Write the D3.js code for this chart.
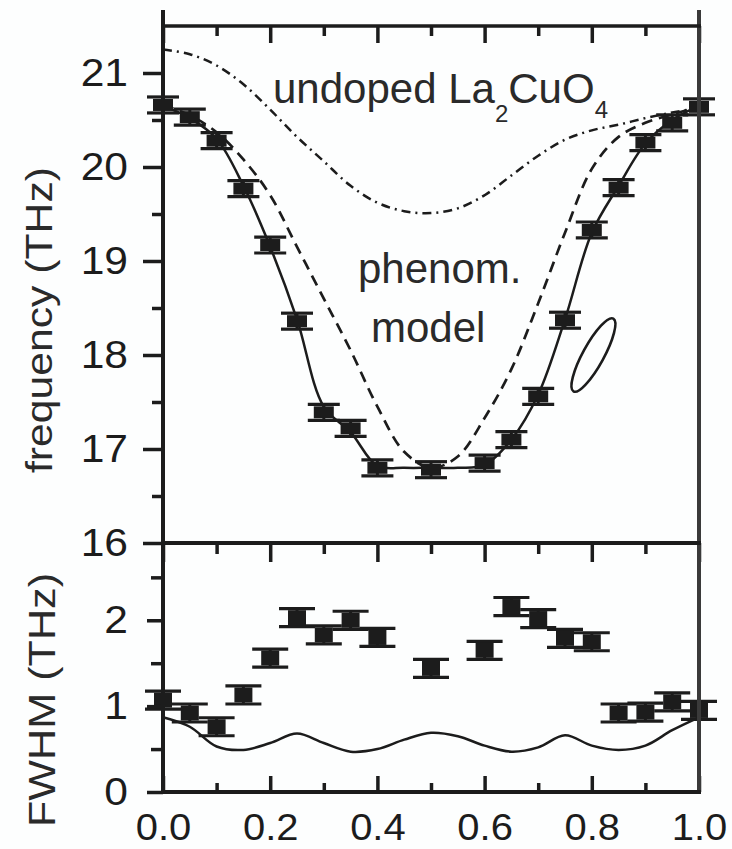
<!DOCTYPE html>
<html><head><meta charset="utf-8">
<script src="https://cdn.jsdelivr.net/npm/d3@7/dist/d3.min.js"></script>
<style>html,body{margin:0;padding:0;background:#fdfefe;} svg{display:block;}</style>
</head><body><svg id="c" width="732" height="849"></svg>
<script>
// ---- data ----
const qPoints   = [0,0.05,0.1,0.15,0.2,0.25,0.3,0.35,0.4,0.5,0.6,0.65,0.7,0.75,0.8,0.85,0.9,0.95,1.0];
const freqPoints = [20.66,20.53,20.28,19.77,19.17,18.36,17.39,17.22,16.80,16.78,16.85,17.10,17.56,18.37,19.33,19.78,20.26,20.47,20.64];
const freqErr = 0.085;
const fwhmPoints = [1.07,0.92,0.76,1.13,1.56,2.03,1.83,2.00,1.80,1.44,1.65,2.16,2.02,1.79,1.75,0.92,0.93,1.05,0.95];
const fwhmErr = 0.105;

const qGrid = [0,0.05,0.1,0.15,0.2,0.25,0.3,0.35,0.4,0.45,0.5,0.55,0.6,0.65,0.7,0.75,0.8,0.85,0.9,0.95,1.0];
const fitFreq     = [20.65,20.52,20.30,19.80,19.15,18.38,17.45,17.18,16.82,16.80,16.80,16.80,16.83,17.10,17.58,18.38,19.30,19.80,20.25,20.50,20.65];
const phenomFreq  = [20.66,20.55,20.37,20.08,19.70,19.15,18.60,18.05,17.45,16.97,16.80,16.92,17.33,17.85,18.55,19.30,19.98,20.32,20.47,20.56,20.64];
const undopedFreq = [21.25,21.20,21.08,20.88,20.61,20.32,20.06,19.80,19.62,19.53,19.51,19.56,19.70,19.91,20.12,20.29,20.39,20.45,20.52,20.58,20.63];
const fitFwhm     = [0.87,0.76,0.53,0.49,0.57,0.68,0.57,0.47,0.50,0.61,0.69,0.65,0.54,0.47,0.52,0.66,0.54,0.49,0.54,0.72,0.87];

const xMajor = [0,0.2,0.4,0.6,0.8,1.0];
const xMinor = [0.1,0.3,0.5,0.7,0.9];
const freqMajor = [16,17,18,19,20,21];
const freqMinor = [16.5,17.5,18.5,19.5,20.5];
const fwhmMajor = [0,1,2];
const fwhmMinor = [0.5,1.5,2.5];
const ellipseCenter = [0.803, 18.0];

// ---- layout ----
const svg = d3.select("#c");
const ink = "#1c1c1c";
const x = d3.scaleLinear().domain([0,1]).range([163,699]);
const yT = d3.scaleLinear().domain([16,21.5]).range([543,26]);
const yB = d3.scaleLinear().domain([0,2.9]).range([792,543]);
const font = "'Liberation Sans', Arial, Helvetica, sans-serif";

function stretch(sel, f){
  sel.each(function(){
    const L = this.getComputedTextLength();
    d3.select(this).attr("textLength", L*f).attr("lengthAdjust","spacingAndGlyphs");
  });
}
function styleAxis(g){
  g.select(".domain").remove();
  g.selectAll(".tick line").attr("stroke", ink).attr("stroke-width", 3.5);
  g.selectAll("text").attr("fill", ink).style("font-family", font).style("font-size","38px");
}

// curves
const lineT = d3.line().x(d=>x(d[0])).y(d=>yT(d[1])).curve(d3.curveCatmullRom.alpha(0.5));
const lineB = d3.line().x(d=>x(d[0])).y(d=>yB(d[1])).curve(d3.curveCatmullRom.alpha(0.5));
const zip = (a,b)=>a.map((v,i)=>[v,b[i]]);

svg.append("path").attr("d", lineT(zip(qGrid, undopedFreq))).attr("fill","none")
  .attr("stroke", ink).attr("stroke-width",2.5).attr("stroke-dasharray","9,5,2,5");
svg.append("path").attr("d", lineT(zip(qGrid, phenomFreq))).attr("fill","none")
  .attr("stroke", ink).attr("stroke-width",2.7).attr("stroke-dasharray","11,7");
svg.append("path").attr("d", lineT(zip(qGrid, fitFreq))).attr("fill","none")
  .attr("stroke", ink).attr("stroke-width",2.5);
svg.append("path").attr("d", lineB(zip(qGrid, fitFwhm))).attr("fill","none")
  .attr("stroke", ink).attr("stroke-width",2.5);

// markers with error bars
function markers(vals, yS, err, bw, bh, cw){
  const g = svg.append("g");
  const m = g.selectAll("g").data(zip(qPoints, vals)).join("g");
  m.append("line").attr("x1",d=>x(d[0])).attr("x2",d=>x(d[0]))
    .attr("y1",d=>yS(d[1]-err)).attr("y2",d=>yS(d[1]+err)).attr("stroke",ink).attr("stroke-width",3);
  [-err, err].forEach(e=>{
    m.append("line").attr("x1",d=>x(d[0])-cw/2).attr("x2",d=>x(d[0])+cw/2)
      .attr("y1",d=>yS(d[1]+e)).attr("y2",d=>yS(d[1]+e)).attr("stroke",ink).attr("stroke-width",3.2);
  });
  m.append("rect").attr("x",d=>x(d[0])-bw/2).attr("y",d=>yS(d[1])-bh/2)
    .attr("width",bw).attr("height",bh).attr("fill",ink);
}
markers(freqPoints, yT, freqErr, 20, 12, 32);
markers(fwhmPoints, yB, fwhmErr, 18, 15, 36);

// ellipse annotation
svg.append("ellipse").attr("cx",0).attr("cy",0).attr("rx",41.5).attr("ry",10.5)
  .attr("transform",`translate(${x(ellipseCenter[0])},${yT(ellipseCenter[1])}) rotate(-61.3)`)
  .attr("fill","none").attr("stroke",ink).attr("stroke-width",2.6);

// axes
const gyT = svg.append("g").attr("transform","translate(163,0)")
  .call(d3.axisLeft(yT).tickValues(freqMajor).tickSize(20).tickPadding(15).tickFormat(d3.format("d")));
styleAxis(gyT);
const gyTm = svg.append("g").attr("transform","translate(163,0)")
  .call(d3.axisLeft(yT).tickValues(freqMinor).tickSize(11).tickFormat(""));
styleAxis(gyTm);
const gyB = svg.append("g").attr("transform","translate(163,0)")
  .call(d3.axisLeft(yB).tickValues(fwhmMajor).tickSize(16).tickPadding(19).tickFormat(d3.format("d")));
styleAxis(gyB);
const gyBm = svg.append("g").attr("transform","translate(163,0)")
  .call(d3.axisLeft(yB).tickValues(fwhmMinor).tickSize(12).tickFormat(""));
styleAxis(gyBm);
stretch(svg.selectAll(".tick text"), 1.12);

function xTicks(yPos, dir, majorLen, minorLen){
  const gen = dir === "top" ? d3.axisTop : d3.axisBottom;
  const a = svg.append("g").attr("transform",`translate(0,${yPos})`)
    .call(gen(x).tickValues(xMajor).tickSize(-majorLen).tickFormat(""));
  styleAxis(a);
  const b = svg.append("g").attr("transform",`translate(0,${yPos})`)
    .call(gen(x).tickValues(xMinor).tickSize(-minorLen).tickFormat(""));
  styleAxis(b);
}
xTicks(26, "top", 17, 10);
xTicks(543, "top", 19, 11);
xTicks(792, "bottom", 16, 9);
const gxL = svg.append("g").attr("transform","translate(0,792)")
  .call(d3.axisBottom(x).tickValues(xMajor).tickSize(0).tickPadding(22).tickFormat(d3.format(".1f")));
styleAxis(gxL);
gxL.selectAll("text").style("font-size","37px");
stretch(gxL.selectAll("text"), 1.08);

// frame
const frame = svg.append("g").attr("stroke",ink).attr("fill","none");
frame.append("line").attr("x1",163).attr("x2",163).attr("y1",10).attr("y2",794).attr("stroke-width",4);
frame.append("line").attr("x1",699).attr("x2",699).attr("y1",10).attr("y2",794).attr("stroke-width",4).attr("stroke","#3a3a3a");
frame.append("line").attr("x1",161).attr("x2",701).attr("y1",yT(21.5)).attr("y2",yT(21.5)).attr("stroke-width",3.5);
frame.append("line").attr("x1",161).attr("x2",701).attr("y1",yT(16)).attr("y2",yT(16)).attr("stroke-width",4);
frame.append("line").attr("x1",161).attr("x2",701).attr("y1",yB(0)).attr("y2",yB(0)).attr("stroke-width",4);

// axis titles
svg.append("text").attr("transform","translate(52,320) rotate(-90)").attr("text-anchor","middle")
  .style("font-family",font).style("font-size","36px").attr("fill","#2a2a2a")
  .attr("textLength",306).attr("lengthAdjust","spacingAndGlyphs").text("frequency (THz)");
svg.append("text").attr("transform","translate(55,700) rotate(-90)").attr("text-anchor","middle")
  .style("font-family",font).style("font-size","36px").attr("fill","#2a2a2a")
  .attr("textLength",254).attr("lengthAdjust","spacingAndGlyphs").text("FWHM (THz)");

// annotations
const t1 = svg.append("text").attr("x",273).attr("y",103)
  .style("font-family",font).style("font-size","42px").attr("fill","#2a2a2a");
t1.append("tspan").text("undoped La");
t1.append("tspan").attr("dy",19).style("font-size","24px").text("2");
t1.append("tspan").attr("dy",-19).text("CuO");
t1.append("tspan").attr("dy",15).style("font-size","24px").text("4");

svg.append("text").attr("x",358).attr("y",283).style("font-family",font).style("font-size","42px")
  .attr("fill","#2a2a2a").text("phenom.");
svg.append("text").attr("x",371).attr("y",342).style("font-family",font).style("font-size","42px")
  .attr("fill","#2a2a2a").text("model");
</script></body></html>
